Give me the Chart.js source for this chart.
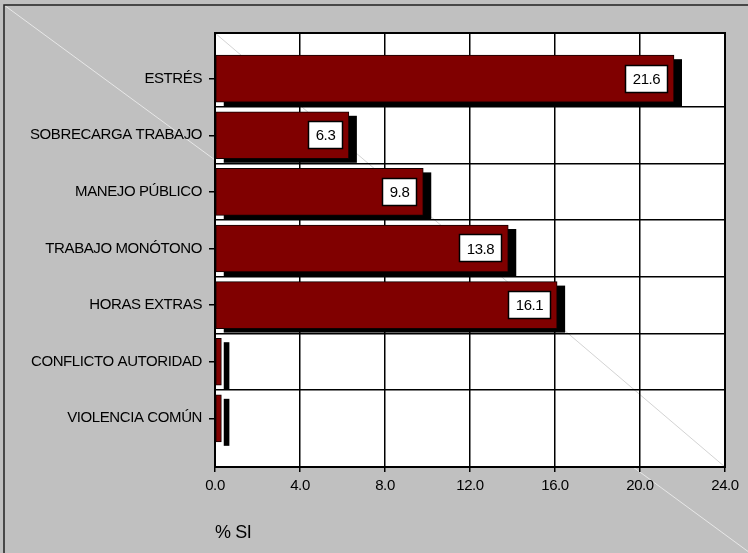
<!DOCTYPE html>
<html>
<head>
<meta charset="utf-8">
<script src="https://cdn.jsdelivr.net/npm/chart.js@4.4.1/dist/chart.umd.min.js"></script>
<style>
  html, body { margin: 0; padding: 0; background: #c0c0c0; }
  canvas { display: block; }
</style>
</head>
<body>
<canvas id="chart" width="748" height="553"></canvas>
<script>
// Factores de riesgo psicosocial: porcentaje de respuestas "SI"
const categories = [
  'ESTRÉS',
  'SOBRECARGA TRABAJO',
  'MANEJO PÚBLICO',
  'TRABAJO MONÓTONO',
  'HORAS EXTRAS',
  'CONFLICTO AUTORIDAD',
  'VIOLENCIA COMÚN'
];
const porcentajeSi = [21.6, 6.3, 9.8, 13.8, 16.1, 0.3, 0.3];
const xTickValues = [0, 4, 8, 12, 16, 20, 24];
const axisTitle = '% SI';

const FONT = '"Liberation Sans", Arial, sans-serif';
const TEXT = '#000000';

// gray frame, white plot area and the thin diagonal strokes
const backdrop = {
  id: 'backdrop',
  beforeDraw(chart) {
    const { ctx, chartArea: a, width, height } = chart;
    // slightly tighter lettering for every label on the canvas
    if ('letterSpacing' in ctx) ctx.letterSpacing = '-0.4px';
    ctx.save();
    ctx.fillStyle = '#c0c0c0';
    ctx.fillRect(0, 0, width, height);
    // outer diagonal
    ctx.strokeStyle = 'rgba(235,235,235,0.9)';
    ctx.lineWidth = 1;
    ctx.beginPath();
    ctx.moveTo(4, 5);
    ctx.lineTo(4 + 742 * 1.1, 5 + 545 * 1.1);
    ctx.stroke();
    // frame edges (left and top)
    ctx.strokeStyle = '#202020';
    ctx.lineWidth = 1.5;
    ctx.beginPath();
    ctx.moveTo(4, height + 2);
    ctx.lineTo(4, 5);
    ctx.lineTo(width + 2, 5);
    ctx.stroke();
    // plot area
    ctx.fillStyle = '#ffffff';
    ctx.fillRect(a.left, a.top, a.right - a.left, a.bottom - a.top);
    ctx.strokeStyle = 'rgba(200,200,200,0.8)';
    ctx.lineWidth = 1;
    ctx.beginPath();
    ctx.moveTo(a.left, a.top);
    ctx.lineTo(a.right, a.bottom);
    ctx.stroke();
    ctx.restore();
  }
};

// black depth shadow behind every bar
const barShadow = {
  id: 'barShadow',
  beforeDatasetsDraw(chart) {
    const { ctx } = chart;
    const meta = chart.getDatasetMeta(0);
    ctx.save();
    ctx.fillStyle = '#000000';
    meta.data.forEach(bar => {
      const p = bar.getProps(['x', 'y', 'base', 'height'], true);
      const top = p.y - p.height / 2;
      ctx.fillRect(p.base + 8, top + 4, p.x - p.base, p.height);
    });
    ctx.restore();
  }
};

// boxed value labels near the end of each bar
const valueBoxes = {
  id: 'valueBoxes',
  afterDatasetsDraw(chart) {
    const { ctx } = chart;
    const meta = chart.getDatasetMeta(0);
    ctx.save();
    ctx.font = '15px ' + FONT;
    ctx.textBaseline = 'middle';
    ctx.textAlign = 'center';
    meta.data.forEach((bar, i) => {
      const p = bar.getProps(['x', 'y', 'base'], true);
      const txt = porcentajeSi[i].toFixed(1);
      const w = Math.round(ctx.measureText(txt).width + 15);
      const h = 28;
      if (p.x - p.base < w + 12) return;
      const right = Math.round(p.x - 6);
      const left = right - w;
      const top = Math.round(p.y - h / 2);
      ctx.fillStyle = '#ffffff';
      ctx.fillRect(left, top, w, h);
      ctx.strokeStyle = '#000000';
      ctx.lineWidth = 1.5;
      ctx.strokeRect(left + 0.5, top + 0.5, w - 1, h - 1);
      ctx.fillStyle = TEXT;
      ctx.fillText(txt, left + w / 2, p.y + 1);
    });
    ctx.restore();
  }
};

// closing border around the plot area
const plotBorder = {
  id: 'plotBorder',
  afterDraw(chart) {
    const { ctx, chartArea: a } = chart;
    ctx.save();
    ctx.strokeStyle = '#000000';
    ctx.lineWidth = 2;
    ctx.strokeRect(a.left, a.top, a.right - a.left, a.bottom - a.top);
    ctx.restore();
  }
};

const isCenter = v => Number.isInteger(v);
const tickVal = c => (c && c.tick ? c.tick.value : 0);

new Chart(document.getElementById('chart'), {
  type: 'bar',
  data: {
    datasets: [{
      label: axisTitle,
      data: porcentajeSi.map((v, i) => ({ x: v, y: i })),
      backgroundColor: '#800000',
      borderColor: '#100000',
      borderWidth: 1,
      borderSkipped: false,
      barThickness: 47
    }]
  },
  options: {
    indexAxis: 'y',
    responsive: false,
    animation: false,
    devicePixelRatio: 1,
    layout: { padding: { top: 33, right: 23, left: 0, bottom: 0 } },
    plugins: {
      legend: { display: false },
      tooltip: { enabled: false }
    },
    scales: {
      x: {
        type: 'linear',
        position: 'bottom',
        min: 0,
        max: 24,
        offset: false,
        afterBuildTicks: s => { s.ticks = xTickValues.map(v => ({ value: v })); },
        afterFit: s => { s.height = 86; },
        ticks: {
          callback: v => Number(v).toFixed(1),
          color: TEXT,
          font: { family: FONT, size: 15 },
          padding: 5,
          maxRotation: 0
        },
        grid: { color: '#000000', lineWidth: 1.5, tickLength: 5, tickColor: '#000000', offset: false },
        border: { color: '#000000', width: 2 },
        title: {
          display: true,
          text: axisTitle,
          align: 'start',
          color: TEXT,
          font: { family: FONT, size: 18 },
          padding: { top: 0, bottom: 9 }
        }
      },
      y: {
        type: 'linear',
        position: 'left',
        reverse: true,
        min: -0.807,
        max: 6.86,
        offset: false,
        afterBuildTicks: s => {
          const t = [];
          categories.forEach((c, i) => {
            t.push({ value: i });
            if (i < categories.length - 1) t.push({ value: i + 0.5 });
          });
          s.ticks = t;
        },
        afterFit: s => { s.width = 215; },
        ticks: {
          autoSkip: false,
          callback: v => (isCenter(v) ? categories[v] : ''),
          color: TEXT,
          font: { family: FONT, size: 15 },
          padding: 7
        },
        grid: {
          offset: false,
          color: c => (isCenter(tickVal(c)) ? 'rgba(0,0,0,0)' : '#000000'),
          tickColor: c => (isCenter(tickVal(c)) ? '#000000' : 'rgba(0,0,0,0)'),
          lineWidth: 1.5,
          tickLength: 6
        },
        border: { color: '#000000', width: 2 }
      }
    }
  },
  plugins: [backdrop, barShadow, valueBoxes, plotBorder]
});
</script>
</body>
</html>
